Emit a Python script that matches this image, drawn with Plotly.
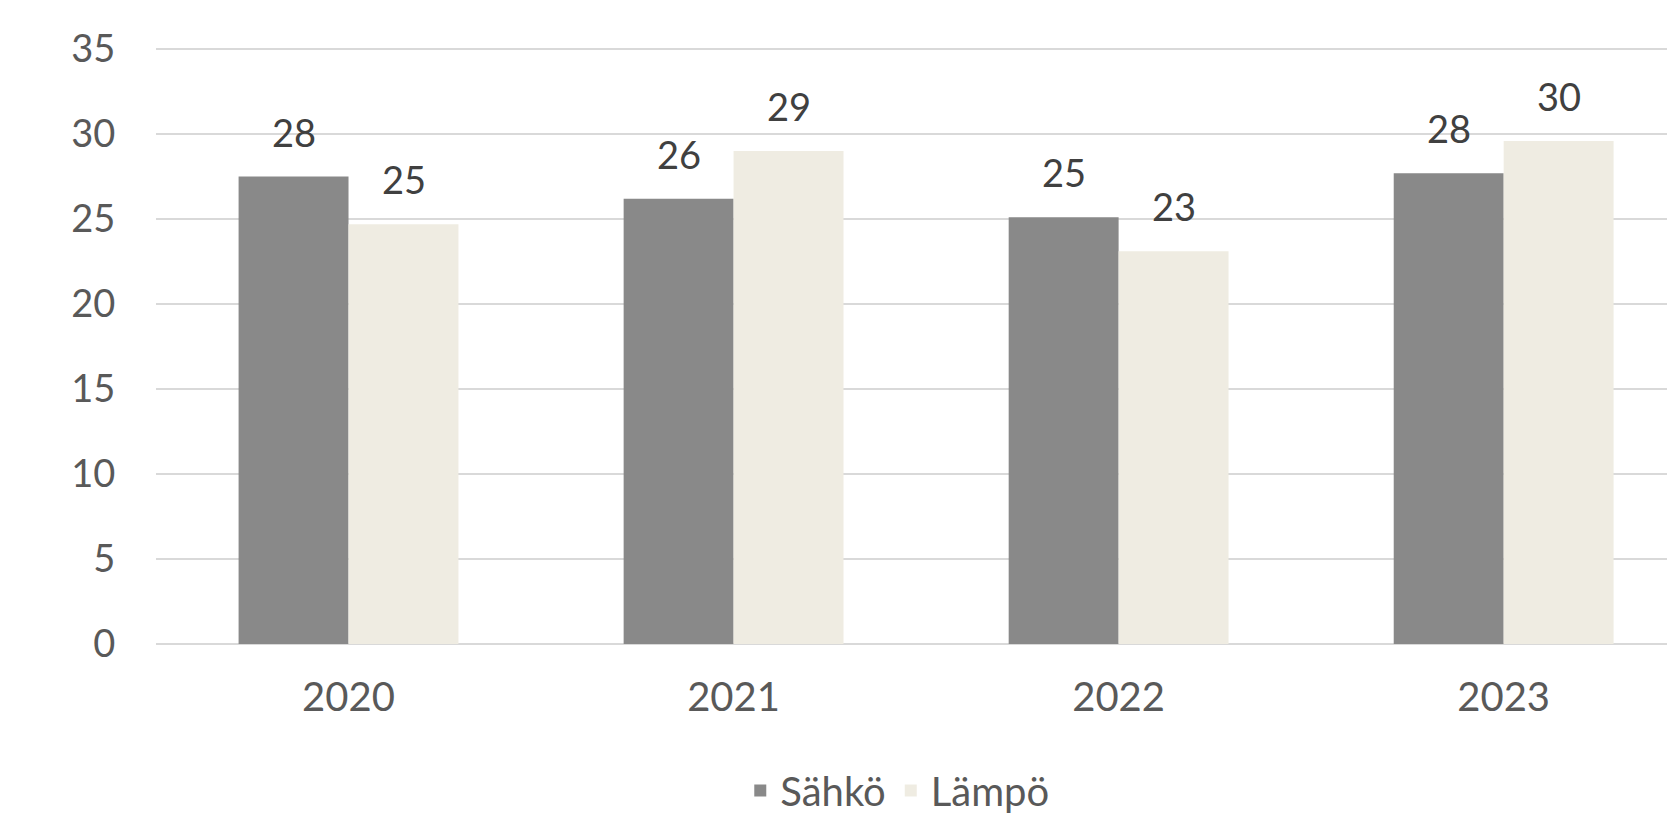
import plotly.graph_objects as go

years = ["2020", "2021", "2022", "2023"]
sahko = [27.5, 26.2, 25.1, 27.7]
lampo = [24.7, 29.0, 23.1, 29.6]
series_names = ["Sähkö", "Lämpö"]
y_ticks = [0, 5, 10, 15, 20, 25, 30, 35]

FONT = "Lato"
c_sahko = "#898989"
c_lampo = "#EFECE2"

xpos = list(range(len(years)))

fig = go.Figure()
fig.add_trace(go.Bar(x=xpos, y=sahko, name=series_names[0], marker=dict(color=c_sahko, line=dict(width=0))))
fig.add_trace(go.Bar(x=xpos, y=lampo, name=series_names[1], marker=dict(color=c_lampo, line=dict(width=0))))

bar_half = 55
for vals, shift in ((sahko, -bar_half), (lampo, bar_half)):
    for x, v in zip(xpos, vals):
        fig.add_annotation(x=x, y=v, xref="x", yref="y", text=f"{v:.0f}", showarrow=False,
                           xshift=shift, yanchor="bottom", yshift=20,
                           font=dict(family=FONT, size=38, color="#404040"))

W, H = 1667, 815
T, L = 36, 148
paper_h = H - T
fig.update_layout(
    width=W, height=H,
    margin=dict(l=L, r=0, t=T, b=0),
    paper_bgcolor="white", plot_bgcolor="white",
    barmode="group", bargap=0.429, bargroupgap=0,
    font=dict(family=FONT, color="#595959", size=38),
    legend=dict(orientation="h", x=0.488, xanchor="center",
                y=0, yanchor="bottom", font=dict(size=40, color="#595959"),
                traceorder="normal", borderwidth=0),
    xaxis=dict(range=[-0.5, 3.445], tickvals=xpos, ticktext=years, showgrid=False, showline=False,
               zeroline=False, ticks="outside", ticklen=18, tickcolor="rgba(0,0,0,0)",
               tickfont=dict(size=40, color="#595959"), automargin=False),
    yaxis=dict(range=[0, 35.3], domain=[179 / paper_h, 1], tickvals=y_ticks, showgrid=True,
               gridcolor="#D9D9D9", gridwidth=2, zeroline=True, zerolinecolor="#D9D9D9",
               zerolinewidth=2, showline=False, ticks="outside", ticklen=32,
               tickcolor="rgba(0,0,0,0)", tickfont=dict(size=38, color="#595959"),
               automargin=False),
)

fig.write_html("out.html")
